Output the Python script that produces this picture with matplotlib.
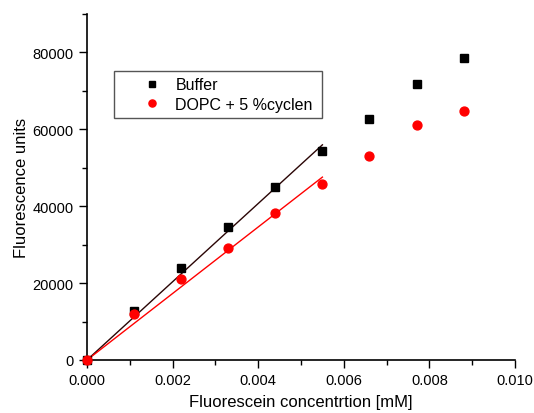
import matplotlib
matplotlib.use("Agg")
import matplotlib.pyplot as plt
import numpy as np
from matplotlib.ticker import MultipleLocator, FormatStrFormatter

plt.rcParams['font.family'] = ['Liberation Sans', 'DejaVu Sans']

conc = np.array([0.0, 0.0011, 0.0022, 0.0033, 0.0044, 0.0055, 0.0066, 0.0077, 0.0088])
buffer_vals = np.array([0, 12700, 24000, 34500, 45000, 54300, 62600, 71700, 78500])
dopc_vals = np.array([0, 12000, 21000, 29200, 38300, 45700, 53000, 61100, 64800])
nfit = 6  # linear range used for the fit

def fitThroughOrigin(x, y):
    # least squares slope with zero intercept
    return np.sum(x * y) / np.sum(x * x)

W, H = 534, 414
fig = plt.figure(figsize=(W / 100, H / 100), dpi=100)
ax = fig.add_axes([87 / W, 1 - 361 / H, (515 - 87) / W, (361 - 15) / H])

xf = conc[:nfit]
kb = fitThroughOrigin(xf, buffer_vals[:nfit])
kd = fitThroughOrigin(xf, dopc_vals[:nfit])
xl = np.array([0.0, xf[-1]])
ax.plot(xl, kb * xl, color='#2a0505', lw=1.0, zorder=2)
ax.plot(xl, kd * xl, color='red', lw=1.0, zorder=2)

ax.plot(conc, buffer_vals, 's', color='black', ms=5.6, label='Buffer', clip_on=False, zorder=3)
ax.plot(conc, dopc_vals, 'o', color='red', ms=6.4, label='DOPC + 5 %cyclen', clip_on=False, zorder=4)

ax.set_xlim(0, 0.010)
ax.set_ylim(0, 90000)
ax.xaxis.set_major_locator(MultipleLocator(0.002))
ax.xaxis.set_minor_locator(MultipleLocator(0.001))
ax.yaxis.set_major_locator(MultipleLocator(20000))
ax.yaxis.set_minor_locator(MultipleLocator(10000))
ax.xaxis.set_major_formatter(FormatStrFormatter('%.3f'))

for s in ['top', 'right']:
    ax.spines[s].set_visible(False)
for s in ['left', 'bottom']:
    ax.spines[s].set_linewidth(1.2)
ax.tick_params(which='major', direction='out', length=6, width=1.0, labelsize=10.5)
ax.tick_params(which='minor', direction='out', length=3.5, width=1.0)

ax.set_xlabel('Fluorescein concentrtion [mM]', fontsize=12, labelpad=5)
ax.set_ylabel('Fluorescence units', fontsize=12, labelpad=3)

leg = fig.legend(loc='upper left', bbox_to_anchor=(114 / W, 1 - 72 / H, 208 / W, 0.0),
                 mode='expand', fontsize=11.5, markerscale=0.8,
                 fancybox=False, framealpha=1, edgecolor='#555555',
                 handlelength=3.9, handletextpad=-0.45, borderpad=0.4,
                 labelspacing=0.27, borderaxespad=0)
leg.get_frame().set_linewidth(1.0)

fig.savefig('out.png', dpi=100)
